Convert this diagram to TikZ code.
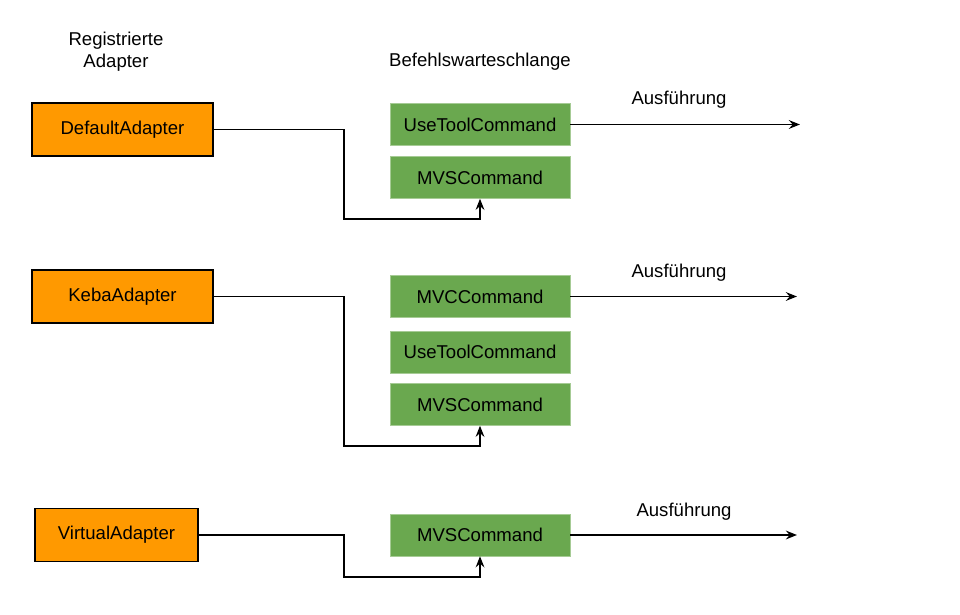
\documentclass[tikz,border=0pt]{standalone}
\usepackage{fontspec}
\setmainfont{Liberation Sans}
\usetikzlibrary{arrows.meta}

\definecolor{adapterorange}{HTML}{FF9900}
\definecolor{cmdgreen}{HTML}{6AA84F}

\tikzset{
  every node/.style={font=\fontsize{13.2}{15.8}\selectfont},
  adapter/.style={draw=black,line width=1.2pt,fill=adapterorange,minimum width=4.525cm,minimum height=1.325cm,inner sep=0pt},
  cmd/.style={draw=cmdgreen!60!white,line width=0.4pt,fill=cmdgreen,minimum width=4.5cm,minimum height=1.05cm,inner sep=0pt},
  flow/.style={line width=1.2pt,-{Stealth[length=2.8mm,width=2.2mm,inset=1mm]}},
  link/.style={line width=1.2pt}
}

\begin{document}
\begin{tikzpicture}[x=0.025cm,y=-0.025cm]
                \useasboundingbox (0,0) rectangle (960,615);

                % titles
                \node[align=center] (regtitle) at (116,52) {Registrierte\\Adapter};
                \node (queuetitle) at (480,62) {Befehlswarteschlange};

                % adapters
                \node[adapter] (default) at (122.5,129.5) {DefaultAdapter};
                \node[adapter] (keba) at (122.5,296.5) {KebaAdapter};
                \node[adapter,minimum width=4.075cm] (virtual) at (116.5,535) {VirtualAdapter};

                % queues
                \node[cmd] (usetoolA) at (480,124.5) {UseToolCommand};
                \node[cmd] (mvsA) at (480,177.5) {MVSCommand};

                \node[cmd] (mvcB) at (480,296.5) {MVCCommand};
                \node[cmd] (usetoolB) at (480,352) {UseToolCommand};
                \node[cmd] (mvsB) at (480,404.5) {MVSCommand};

                \node[cmd] (mvsC) at (480,535) {MVSCommand};

                % bends
                \coordinate (bendA) at (344,219);
                \coordinate (bendB) at (344,446);
                \coordinate (bendC) at (344,577);

                \draw[flow] (default.east) -| (bendA) -| (mvsA.south);
                \draw[flow] (keba.east) -| (bendB) -| (mvsB.south);
                \draw[flow] (virtual.east) -| (bendC) -| (mvsC.south);

                % execution
                \coordinate (outA) at (800,124.5);
                \coordinate (outB) at (797,296.5);
                \coordinate (outC) at (797,535);

                \draw[flow] (usetoolA.east) -- (outA);
                \draw[flow] (mvcB.east) -- (outB);
                \draw[flow] (mvsC.east) -- (outC);

                \node (runA) at (679,100) {Ausführung};
                \node (runB) at (679,273) {Ausführung};
                \node (runC) at (684,512) {Ausführung};
\end{tikzpicture}
\end{document}
